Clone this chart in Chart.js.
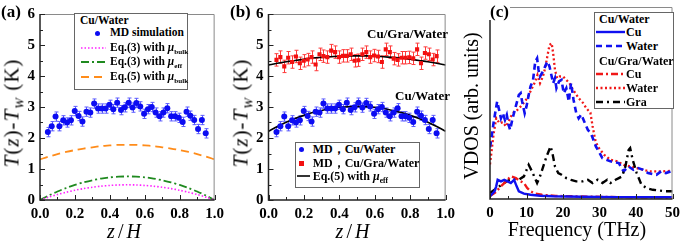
<!DOCTYPE html>
<html><head><meta charset="utf-8">
<script src="https://cdn.jsdelivr.net/npm/chart.js@4.4.1/dist/chart.umd.min.js"></script>
<style>
html,body{margin:0;padding:0;background:#fff}
#wrap{position:relative;width:685px;height:244px;overflow:hidden;font-family:"Liberation Serif","Times New Roman",serif;color:#000;background:#fff}
canvas{position:absolute;top:0}
.t{position:absolute;white-space:nowrap;line-height:1}
.c{transform:translate(-50%,-50%)}
.l{transform:translateY(-50%)}
.v{transform:translate(-50%,-50%) rotate(-90deg)}
.lg{position:absolute;border:1px solid #666;background:#fff;box-sizing:border-box}
.b{font-weight:bold}
sub{font-size:0.62em;vertical-align:-0.35em;line-height:0}
</style></head><body><div id="wrap">
<canvas id="ca" width="229" height="244" style="left:0px"></canvas>
<canvas id="cb" width="230" height="244" style="left:230px"></canvas>
<canvas id="cc" width="225" height="244" style="left:460px"></canvas>
</div>
<script>
// ---------- data: panels (a) and (b) ----------
const zMD = [0.045,0.067,0.089,0.111,0.133,0.155,0.177,0.199,0.221,0.243,0.266,0.288,0.310,0.332,0.354,0.376,0.398,0.420,0.442,0.464,0.486,0.508,0.530,0.552,0.574,0.596,0.618,0.640,0.662,0.685,0.707,0.729,0.751,0.773,0.795,0.817,0.839,0.861,0.883,0.905,0.927,0.949];
const tCuWater = [2.19,2.38,2.69,2.38,2.57,2.50,2.57,2.87,2.71,2.53,2.85,2.82,3.11,2.95,2.95,2.95,3.07,2.93,3.14,2.90,2.99,3.14,2.98,3.13,3.02,2.78,2.93,3.00,2.82,2.70,2.82,2.96,2.70,2.70,2.65,2.52,2.85,2.72,2.58,2.29,2.58,2.15];
const tCuGraWater = [4.52,4.61,4.31,4.59,4.45,4.63,4.41,4.49,4.53,4.61,4.37,4.70,4.64,4.61,4.82,4.77,4.61,4.65,4.65,4.70,4.49,4.51,4.70,4.77,4.61,4.66,4.63,4.45,4.86,4.77,4.56,4.52,4.59,4.59,4.60,4.57,4.86,4.41,4.74,4.70,4.53,4.64];
const errCuWater = 0.15;
const errCuGraWater = 0.2;
const zFit = [0,0.05,0.1,0.15,0.2,0.25,0.3,0.35,0.4,0.45,0.5,0.55,0.6,0.65,0.7,0.75,0.8,0.85,0.9,0.95,1];
const eq3Bulk = [0,0.093,0.176,0.250,0.314,0.368,0.412,0.446,0.470,0.485,0.490,0.485,0.470,0.446,0.412,0.368,0.314,0.250,0.176,0.093,0];
const eq3Eff = [0,0.144,0.274,0.388,0.486,0.570,0.638,0.692,0.730,0.752,0.760,0.752,0.730,0.692,0.638,0.570,0.486,0.388,0.274,0.144,0];
const eq5Bulk = [1.31,1.40,1.48,1.55,1.61,1.66,1.70,1.74,1.76,1.78,1.78,1.78,1.76,1.74,1.70,1.66,1.61,1.55,1.48,1.40,1.31];
const eq5EffCuW = [2.22,2.37,2.51,2.63,2.73,2.82,2.89,2.95,2.99,3.01,3.02,3.01,2.99,2.95,2.89,2.82,2.73,2.63,2.51,2.37,2.22];
const eq5EffCuGraW = [4.35,4.41,4.46,4.50,4.54,4.58,4.60,4.62,4.64,4.65,4.65,4.65,4.64,4.62,4.60,4.58,4.54,4.50,4.46,4.41,4.35];
const zTicksMajor = [0,0.2,0.4,0.6,0.8,1.0];
const zTicksMinor = [0.1,0.3,0.5,0.7,0.9];
const tTicksMajor = [0,1,2,3,4,5,6];
const tTicksMinor = [0.5,1.5,2.5,3.5,4.5,5.5];
// ---------- data: panel (c) VDOS ----------
const fWaterCuW = [0,0.2,1.0,1.96,2.6,3.0,3.5,4.1,4.6,5.1,5.5,6.2,6.8,7.3,7.9,8.4,8.8,9.5,10.0,10.6,11.1,11.8,12.4,12.9,13.3,13.7,14.5,15.1,15.7,16.3,16.9,17.3,17.8,18.2,18.9,19.6,20.2,20.9,21.6,22.2,22.9,23.6,24.3,25.0,25.9,26.8,27.7,29.0,30.8,33.0,35.3,36.6,37.9,39.3,40.6,42.0,43.3,45.6,46.9,48.2,49.5,50];
const vWaterCuW = [27,29.1,40,50.8,45.6,42.1,44.7,41.2,43.8,38.6,36.0,42.1,46.4,49.9,54.2,55.1,50.8,44.7,48.2,54.2,58.6,62.0,71.6,73.3,67.2,63.8,66.4,69.0,71.6,69.0,63.8,60.3,62.9,57.7,61.2,62.0,55.1,57.7,50.8,60.3,51.6,45.0,42.0,44.0,40.0,36.0,34.0,27.4,21.3,19.6,18.7,14.4,17.0,15.2,16.1,15.2,13.5,12.6,14.4,13.5,14.4,14.2];
const fWaterCuGraW = [0,0.2,1.0,1.7,2.6,3.5,4.4,5.3,6.2,7.5,8.8,10.2,11.5,12.4,13.0,13.7,14.5,15.1,15.7,16.3,16.9,17.3,17.8,18.4,19.1,20.0,20.9,21.8,22.5,23.4,24.3,25.5,26.5,27.5,28.1,28.8,29.5,31.3,33.0,34.8,36.6,38.4,40.2,42.0,43.8,45.6,47.4,49.2,50];
const vWaterCuGraW = [18,21.3,34,42.1,39.5,40.0,37.8,41.2,44.7,46.4,49.0,52.5,57.7,61.2,64.6,60.3,63.8,68.1,74.2,80.2,81.1,75.9,67.2,62.9,63.8,63.8,62.0,60.3,57.7,55.1,52.5,50,47,45,38,31,27.4,23.0,20.4,19.6,17.8,17.0,16.1,15.2,14.4,14.4,14.4,14.6,14.5];
const fGra = [0,1.25,2.5,3.9,5.3,6.6,7.9,9.3,10.6,11.5,12.9,13.7,14.6,15.5,16.6,17.1,17.8,18.7,19.6,20.9,22.2,23.6,25.4,26.8,28.1,29.5,30.8,32.1,33.0,34.4,35.3,36.2,37.1,38.0,38.4,39.1,40.2,41.5,42.9,44.6,46.4,48.2,50];
const vGra = [3.1,4.8,6.5,8.3,10,10.5,10,11.8,17.8,14.4,8.3,11.8,17,22.2,27.4,23.9,17,13.5,12.6,10.9,10,9.2,9.2,10,8.3,10,8.3,10,8.3,10,10.9,11.8,17,25.6,26.5,20.4,13.5,7.4,5.7,4.8,4.4,4,4];
const fCuCuGraW = [0,1.5,3.0,4.4,5.7,7.1,8.4,9.3,10.2,11.1,12.4,14.2,18,25,35,50];
const vCuCuGraW = [1.5,3.5,6.6,9.2,11.8,10.9,9.2,8.3,5.7,4.0,2.8,2.2,1.6,1.3,1.0,0.8];
const fCuCuW = [0,1.25,1.7,2.1,3.0,3.9,4.8,5.7,6.6,7.3,7.9,9.3,11.1,13.7,17.3,25,35,50];
const vCuCuW = [1.4,4,6.6,10,9.2,10,9.2,8.3,10,6.6,4.0,2.8,2.2,1.7,1.4,1.2,1.0,0.9];
const fTicksMajor = [0,10,20,30,40,50];
const fTicksMinor = [5,15,25,35,45];

// ---------- helpers ----------
const BLUE='#0c0cf2', BLUE_E='#5a5aff', RED='#f21010', RED_E='#ff3a3a';
const SERIF='"Liberation Serif","Times New Roman",serif';
const tickFont={family:SERIF,weight:'bold',size:15};
Chart.defaults.font.family=SERIF;
Chart.defaults.color='#000';
const pts=(xs,ys)=>xs.map((x,i)=>({x:x,y:ys[i]}));

function decor(opt){
  return {
    id:'decor',
    beforeDatasetsDraw(chart){
      const ctx=chart.ctx, xs=chart.scales.x, ys=chart.scales.y;
      (opt.err||[]).forEach(e=>{
        ctx.save();ctx.strokeStyle=e.color;ctx.lineWidth=1;ctx.beginPath();
        e.xs.forEach((xv,i)=>{
          const px=Math.round(xs.getPixelForValue(xv))+0.5;
          const y1=ys.getPixelForValue(e.ys[i]-e.err), y2=ys.getPixelForValue(e.ys[i]+e.err);
          ctx.moveTo(px,y1);ctx.lineTo(px,y2);
          ctx.moveTo(px-2,y1);ctx.lineTo(px+2,y1);
          ctx.moveTo(px-2,y2);ctx.lineTo(px+2,y2);
        });
        ctx.stroke();ctx.restore();
      });
    },
    afterDraw(chart){
      const ctx=chart.ctx,a=chart.chartArea,xs=chart.scales.x,ys=chart.scales.y;
      ctx.save();
      ctx.strokeStyle='#8a8a8a';ctx.lineWidth=1;
      ctx.beginPath();ctx.moveTo(a.left,a.top+0.5);ctx.lineTo(a.right-0.5,a.top+0.5);ctx.lineTo(a.right-0.5,a.bottom);ctx.stroke();
      ctx.strokeStyle='#222';ctx.lineWidth=1.5;
      ctx.beginPath();ctx.moveTo(a.left,a.top);ctx.lineTo(a.left,a.bottom);ctx.lineTo(a.right,a.bottom);ctx.stroke();
      ctx.lineWidth=1;ctx.beginPath();
      (opt.xMaj||[]).forEach(v=>{const p=Math.round(xs.getPixelForValue(v))+0.5;ctx.moveTo(p,a.bottom);ctx.lineTo(p,a.bottom-5);});
      (opt.xMin||[]).forEach(v=>{const p=Math.round(xs.getPixelForValue(v))+0.5;ctx.moveTo(p,a.bottom);ctx.lineTo(p,a.bottom-3);});
      (opt.yMaj||[]).forEach(v=>{const p=Math.round(ys.getPixelForValue(v))+0.5;ctx.moveTo(a.left,p);ctx.lineTo(a.left+5,p);});
      (opt.yMin||[]).forEach(v=>{const p=Math.round(ys.getPixelForValue(v))+0.5;ctx.moveTo(a.left,p);ctx.lineTo(a.left+3,p);});
      ctx.stroke();ctx.restore();
    }
  };
}
function xScale(min,max,step,dec,h){
  return {type:'linear',min:min,max:max,grid:{display:false,drawTicks:false},border:{display:false},
    ticks:{stepSize:step,autoSkip:false,maxRotation:0,padding:5,font:tickFont,callback:v=>v.toFixed(dec)},
    afterFit:s=>{s.height=h;}};
}
function yScale(min,max,step,w,show){
  return {type:'linear',min:min,max:max,grid:{display:false,drawTicks:false},border:{display:false},
    ticks:{display:show,stepSize:step,autoSkip:false,padding:5,font:tickFont,callback:v=>String(Math.round(v))},
    afterFit:s=>{s.width=w;}};
}
function baseOpts(pad,xs,ys){
  return {responsive:false,animation:false,devicePixelRatio:1,
    layout:{padding:pad},
    plugins:{legend:{display:false},tooltip:{enabled:false}},
    scales:{x:xs,y:ys}};
}
const lineDs=(xs,ys,color,w,dash,tension)=>({type:'scatter',data:pts(xs,ys),showLine:true,borderColor:color,borderWidth:w,borderDash:dash||[],pointRadius:0,tension:tension||0,fill:false});

// ---------- panel (a) ----------
new Chart(document.getElementById('ca'),{
  type:'scatter',
  data:{datasets:[
    lineDs(zFit,eq3Bulk,'#ff22ff',1.6,[1.5,2],0.3),
    lineDs(zFit,eq3Eff,'#1f8a1f',1.8,[8,3,2,3],0.3),
    lineDs(zFit,eq5Bulk,'#ff8c1a',1.8,[8,5],0.3),
    {type:'scatter',data:pts(zMD,tCuWater),backgroundColor:BLUE,borderColor:BLUE,pointRadius:3,borderWidth:0}
  ]},
  options:baseOpts({left:0,top:9,right:8,bottom:0},xScale(0,1,0.2,1,44),yScale(0,6,1,40,true)),
  plugins:[decor({err:[{xs:zMD,ys:tCuWater,err:errCuWater,color:BLUE_E}],xMaj:zTicksMajor,xMin:zTicksMinor,yMaj:tTicksMajor,yMin:tTicksMinor})]
});
// ---------- panel (b) ----------
new Chart(document.getElementById('cb'),{
  type:'scatter',
  data:{datasets:[
    {type:'scatter',data:pts(zMD,tCuWater),backgroundColor:BLUE,borderColor:BLUE,pointRadius:3,borderWidth:0},
    {type:'scatter',data:pts(zMD,tCuGraWater),backgroundColor:RED,borderColor:RED,pointStyle:'rect',pointRadius:2.9,borderWidth:0},
    lineDs(zFit,eq5EffCuW,'#000',1.6,[],0.3),
    lineDs(zFit,eq5EffCuGraW,'#000',1.6,[],0.3)
  ]},
  options:baseOpts({left:0,top:9,right:10,bottom:0},xScale(0,1,0.2,1,44),yScale(0,6,1,38.5,true)),
  plugins:[decor({err:[{xs:zMD,ys:tCuWater,err:errCuWater,color:BLUE_E},{xs:zMD,ys:tCuGraWater,err:errCuGraWater,color:RED_E}],xMaj:zTicksMajor,xMin:zTicksMinor,yMaj:tTicksMajor,yMin:tTicksMinor})]
});
// ---------- panel (c) ----------
new Chart(document.getElementById('cc'),{
  type:'scatter',
  data:{datasets:[
    lineDs(fCuCuW,vCuCuW,'#1010f0',2.4,[],0),
    lineDs(fCuCuGraW,vCuCuGraW,'#f01818',2.4,[7,3,2,3],0),
    lineDs(fGra,vGra,'#000',2.4,[7,4,2,4],0),
    lineDs(fWaterCuW,vWaterCuW,'#1010f0',2.6,[6,4],0),
    lineDs(fWaterCuGraW,vWaterCuGraW,'#f01818',2.3,[2,2.5],0)
  ]},
  options:baseOpts({left:0,top:7,right:8,bottom:0},xScale(0,50,10,0,45),yScale(0,100,20,30,false)),
  plugins:[decor({xMaj:fTicksMajor,xMin:fTicksMinor})]
});

// ---------- text overlays ----------
const W=document.getElementById('wrap');
function txt(html,x,y,cls,st){const d=document.createElement('div');d.className='t '+(cls||'');d.innerHTML=html;d.style.left=x+'px';d.style.top=y+'px';if(st)Object.assign(d.style,st);W.appendChild(d);return d;}
function box(x1,y1,x2,y2){const d=document.createElement('div');d.className='lg';Object.assign(d.style,{left:x1+'px',top:y1+'px',width:(x2-x1)+'px',height:(y2-y1)+'px'});W.appendChild(d);}
const NS='http://www.w3.org/2000/svg';
function sample(x1,x2,y,color,w,dash){const s=document.createElementNS(NS,'svg');s.setAttribute('width',x2-x1);s.setAttribute('height',10);Object.assign(s.style,{position:'absolute',left:x1+'px',top:(y-5)+'px'});const l=document.createElementNS(NS,'line');l.setAttribute('x1',0);l.setAttribute('y1',5);l.setAttribute('x2',x2-x1);l.setAttribute('y2',5);l.setAttribute('stroke',color);l.setAttribute('stroke-width',w);if(dash)l.setAttribute('stroke-dasharray',dash);s.appendChild(l);W.appendChild(s);}
function marker(x,y,color,round){const d=document.createElement('div');Object.assign(d.style,{position:'absolute',left:(x-2.8)+'px',top:(y-2.8)+'px',width:'5.6px',height:'5.6px',background:color,borderRadius:round?'50%':'0'});W.appendChild(d);}

const yTitle='<i>T</i>(<i>z</i>)-<i>T</i><sub><i>W</i></sub> (K)';
const yTitleStyle={fontSize:'21px',letterSpacing:'1px'};
// panel labels
txt('(a)',1,3,'b',{fontSize:'17px'});
txt('(b)',230,3,'b',{fontSize:'17px'});
txt('(c)',489,3,'b',{fontSize:'17px',background:'#fff',padding:'0 1px'});
// axis titles
txt(yTitle,12,113,'v',yTitleStyle);
txt('<i>z</i>/<i>H</i>',125.5,231,'c',{fontSize:'20px',letterSpacing:'3px'});
txt(yTitle,241,113,'v',yTitleStyle);
txt('<i>z</i>/<i>H</i>',354,231,'c',{fontSize:'20px',letterSpacing:'3px'});
txt('VDOS (arb. units)',471,106,'v',{fontSize:'20px'});
txt('Frequency (THz)',577,229,'c',{fontSize:'20px'});
// legend (a)
box(74,13,188,90);
const la={fontSize:'11.5px'};
txt('Cu/Water',80,20.5,'l b',la);
marker(97.3,33.3,BLUE,true);
txt('MD simulation',110,33.3,'l b',la);
sample(81,106,47.7,'#ff22ff',1.6,'1.5,2');
txt('Eq.(3) with <i>μ</i><sub>bulk</sub>',110,47.7,'l b',la);
sample(81,106,62.3,'#1f8a1f',1.8,'8,3,2,3');
txt('Eq.(3) with <i>μ</i><sub>eff</sub>',110,62.3,'l b',la);
sample(81,106,77.3,'#ff8c1a',1.8,'8,5');
txt('Eq.(5) with <i>μ</i><sub>bulk</sub>',110,77.3,'l b',la);
// panel (b) labels and legend
txt('Cu/Gra/Water',407.5,32.5,'c b',{fontSize:'13px'});
txt('Cu/Water',422.5,94.5,'c b',{fontSize:'13px'});
box(295,141.5,420,187.5);
const lb={fontSize:'12px'};
marker(301.7,149.3,BLUE,true);
txt('MD，Cu/Water',312.7,149.3,'l b',lb);
marker(301.7,163.3,RED,false);
txt('MD，Cu/Gra/Water',312.7,163.3,'l b',lb);
sample(296.5,310,175.7,'#000',1.6,null);
txt('Eq.(5) with <i>μ</i><sub>eff</sub>',312.7,175.7,'l b',lb);
// legend (c)
box(594,11.5,673.5,109);
const lc={fontSize:'12px'};
txt('Cu/Water',599,18.8,'l b',lc);
sample(596,625,32.3,'#1010f0',2.4,null);
txt('Cu',626,32.3,'l b',lc);
sample(596,625,46,'#1010f0',2.6,'6,4');
txt('Water',626,46,'l b',lc);
txt('Cu/Gra/Water',599,60.7,'l b',lc);
sample(596,625,74,'#f01818',2.4,'7,3,2,3');
txt('Cu',626,74,'l b',lc);
sample(596,625,88.3,'#f01818',2.3,'2,2.5');
txt('Water',626,88.3,'l b',lc);
sample(596,625,101.7,'#000',2.4,'7,4,2,4');
txt('Gra',626,101.7,'l b',lc);
</script></body></html>
